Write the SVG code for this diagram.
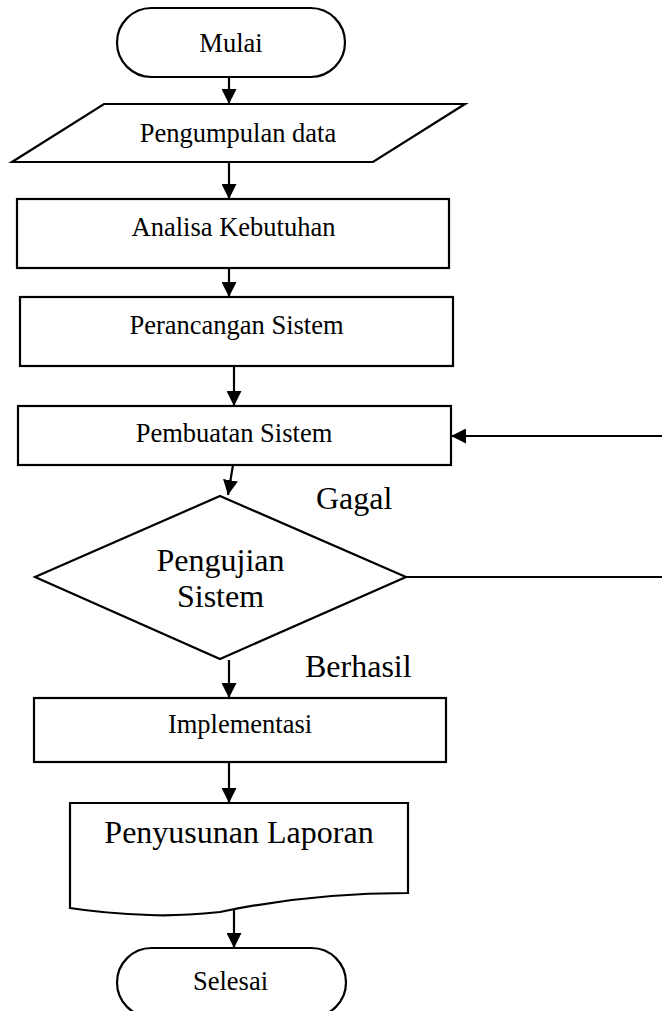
<svg xmlns="http://www.w3.org/2000/svg" width="662" height="1011" viewBox="0 0 662 1011">
<style>
.s{fill:#fff;stroke:#000;stroke-width:2.2}
.t{font-family:"Liberation Serif","Times New Roman",serif;font-size:26.5px;fill:#000}
.b{font-family:"Liberation Serif","Times New Roman",serif;font-size:32px;fill:#000}
.c{fill:none;stroke:#000;stroke-width:2.2}
</style>
<defs>
<marker id="ah" markerUnits="userSpaceOnUse" markerWidth="15" markerHeight="15" refX="15" refY="7.5" orient="auto" viewBox="0 0 15 15">
<path d="M0,0 L15,7.5 L0,15 Z" fill="#000"/>
</marker>
</defs>
<rect width="662" height="1011" fill="#fff"/>
<g id="mulai">
<rect class="s" x="117" y="8" width="228" height="69" rx="34.5" ry="34.5"/>
<text class="t" x="231" y="52" text-anchor="middle">Mulai</text>
</g>
<g id="pengumpulan">
<polygon class="s" points="104,104 465,104 373,162 12,162"/>
<text class="t" x="238" y="142" text-anchor="middle">Pengumpulan data</text>
</g>
<g id="analisa">
<rect class="s" x="17" y="199" width="432" height="69"/>
<text class="t" x="233.5" y="236" text-anchor="middle">Analisa Kebutuhan</text>
</g>
<g id="perancangan">
<rect class="s" x="20" y="297" width="433" height="69"/>
<text class="t" x="236.5" y="334" text-anchor="middle">Perancangan Sistem</text>
</g>
<g id="pembuatan">
<rect class="s" x="18" y="406" width="433" height="59"/>
<text class="t" x="234" y="442" text-anchor="middle">Pembuatan Sistem</text>
</g>
<g id="pengujian">
<polygon class="s" points="220,496 406,577 220,659 35,577"/>
<text class="b" x="220.5" y="571" text-anchor="middle">Pengujian</text>
<text class="b" x="220.5" y="607" text-anchor="middle">Sistem</text>
</g>
<g id="implementasi">
<rect class="s" x="34" y="698" width="412" height="64"/>
<text class="t" x="240" y="733" text-anchor="middle">Implementasi</text>
</g>
<g id="penyusunan">
<path class="s" d="M70,803 H408 V893 C363,893 300,895 220,912 C190,915 170,916 150,915 C120,914 95,912 70,908 Z"/>
<text class="b" x="239" y="843" text-anchor="middle">Penyusunan Laporan</text>
</g>
<g id="selesai">
<rect class="s" x="117" y="948" width="229" height="69" rx="34.5" ry="34.5"/>
<text class="t" x="230.5" y="990" text-anchor="middle">Selesai</text>
</g>
<g id="connectors">
<line class="c" x1="229" y1="77" x2="229" y2="104" marker-end="url(#ah)"/>
<line class="c" x1="229" y1="162" x2="229" y2="199" marker-end="url(#ah)"/>
<line class="c" x1="229" y1="268" x2="229" y2="297" marker-end="url(#ah)"/>
<line class="c" x1="234" y1="366" x2="234" y2="406" marker-end="url(#ah)"/>
<line class="c" x1="233" y1="465" x2="228" y2="495" marker-end="url(#ah)"/>
<line class="c" x1="229" y1="660" x2="229" y2="698" marker-end="url(#ah)"/>
<line class="c" x1="229" y1="762" x2="229" y2="803" marker-end="url(#ah)"/>
<line class="c" x1="234" y1="910" x2="234" y2="948" marker-end="url(#ah)"/>
<path class="c" d="M406,577 H680 V436 H451" marker-end="url(#ah)"/>
<text class="b" x="316" y="509">Gagal</text>
<text class="b" x="305" y="677">Berhasil</text>
</g>
</svg>
